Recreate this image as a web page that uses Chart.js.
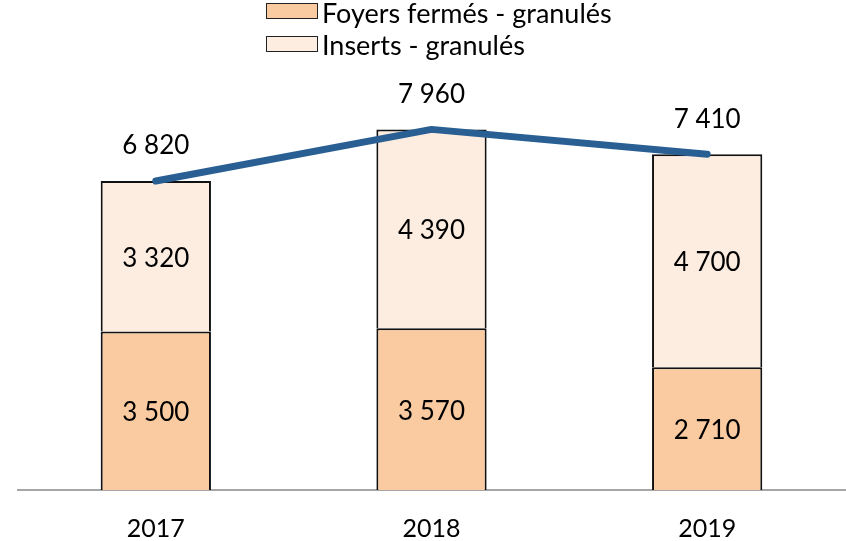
<!DOCTYPE html>
<html>
<head>
<meta charset="utf-8">
<script src="https://cdn.jsdelivr.net/npm/chart.js@4"></script>
<style>
    body { margin: 0; background: #fff; }
    .wrap { position: relative; width: 846px; height: 541px; }
    .legend { position: absolute; left: 266px; top: 0; font-family: Lato, sans-serif; font-size: 27px; color: #000; }
    .legend-item { position: absolute; left: 0; white-space: nowrap; height: 33px; line-height: 28px; }
    .legend-box { position: absolute; left: 0; width: 50px; height: 14px; border: 1.5px solid #222; }
    .legend-text { position: absolute; left: 56px; top: -4px; }
</style>
</head>
<body>
<div class="wrap">
    <canvas id="chart" width="846" height="541"></canvas>
    <div class="legend" id="legend"></div>
</div>
<script>
const years = ['2017', '2018', '2019'];
const foyersFermes = [3500, 3570, 2710];
const inserts = [3320, 4390, 4700];
const totals = [6820, 7960, 7410];

const seriesNames = ['Foyers fermés - granulés', 'Inserts - granulés'];
const seriesColors = ['#FACBA0', '#FDEDE1'];

function formatNumber(n) {
    return String(n).replace(/\B(?=(\d{3})+(?!\d))/g, ' ');
}

// legend, stacked vertically like the original
const legend = document.getElementById('legend');
legend.innerHTML = seriesNames.map((name, i) => `
    <div class="legend-item" style="top:${3 + i * 32}px">
        <span class="legend-box" style="background:${seriesColors[i]}; top:${i === 0 ? 0 : 1}px"></span>
        <span class="legend-text">${name}</span>
    </div>
`).join('');

const valueLabels = {
    id: 'valueLabels',
    afterDatasetsDraw(chart) {
        const ctx = chart.ctx;
        ctx.save();
        ctx.font = '26px Lato, sans-serif';
        ctx.fillStyle = '#000';
        ctx.textAlign = 'center';
        ctx.textBaseline = 'middle';
        chart.data.datasets.forEach((ds, di) => {
            const meta = chart.getDatasetMeta(di);
            meta.data.forEach((el, i) => {
                const text = formatNumber(ds.data[i]);
                if (ds.type === 'line') {
                    ctx.fillText(text, el.x, el.y - 35);
                } else {
                    ctx.fillText(text, el.x, (el.y + el.base) / 2 + 2);
                }
            });
        });
        ctx.restore();
    }
};

new Chart(document.getElementById('chart'), {
    data: {
        labels: years,
        datasets: [
            {
                type: 'line',
                label: 'Total',
                data: totals,
                stack: 'total',
                borderColor: '#2A5F93',
                borderWidth: 7,
                borderCapStyle: 'round',
                borderJoinStyle: 'round',
                pointRadius: 0,
                tension: 0,
                order: 0
            },
            {
                type: 'bar',
                label: seriesNames[0],
                data: foyersFermes,
                stack: 'ventes',
                backgroundColor: seriesColors[0],
                borderColor: '#111',
                borderWidth: 2,
                order: 1
            },
            {
                type: 'bar',
                label: seriesNames[1],
                data: inserts,
                stack: 'ventes',
                backgroundColor: seriesColors[1],
                borderColor: '#111',
                borderWidth: 2,
                order: 1
            }
        ]
    },
    options: {
        responsive: false,
        animation: false,
        layout: { padding: { top: 80, left: 18, right: 1, bottom: 0 } },
        datasets: {
            bar: { categoryPercentage: 1, barPercentage: 0.4 }
        },
        plugins: {
            legend: { display: false },
            tooltip: { enabled: false }
        },
        scales: {
            x: {
                stacked: true,
                grid: { display: false },
                border: { color: '#A6A6A6', width: 2 },
                ticks: {
                    color: '#000',
                    padding: 16,
                    font: { family: 'Lato, sans-serif', size: 25 }
                },
                afterFit: scale => { scale.height = 51; }
            },
            y: {
                stacked: true,
                display: false,
                min: 0,
                max: 9050
            }
        }
    },
    plugins: [valueLabels]
});
</script>
</body>
</html>
